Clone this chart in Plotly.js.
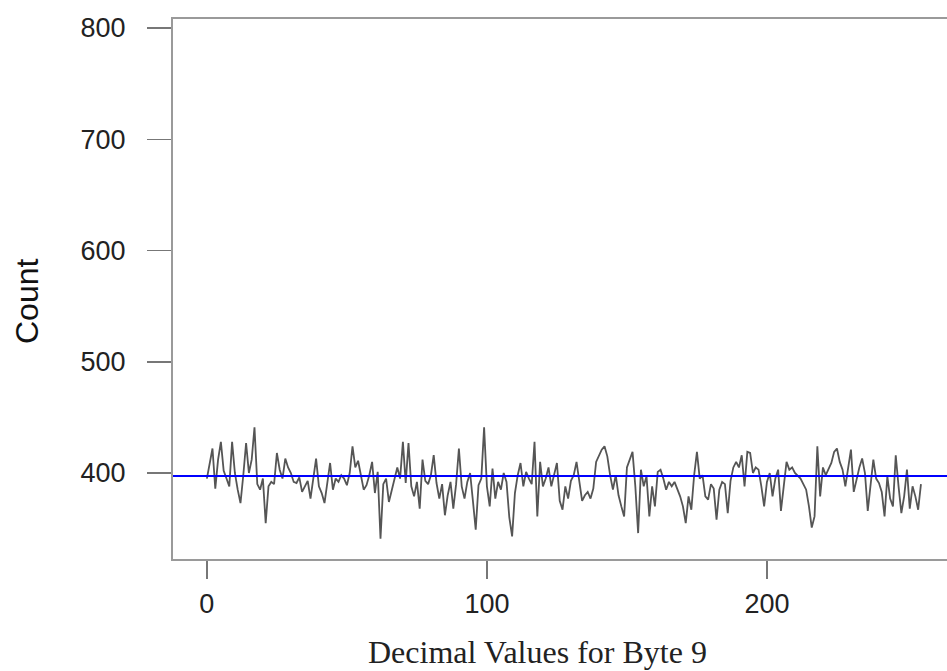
<!DOCTYPE html>
<html>
<head>
<meta charset="utf-8">
<script src="https://cdn.plot.ly/plotly-3.0.1.min.js"></script>
<style>
  html, body { margin: 0; padding: 0; background: #fff; }
  #chart { width: 947px; height: 671px; }
</style>
</head>
<body>
<div id="chart"></div>
<script>
// Count of each decimal value (0..255) observed for byte 9
const byteValues = Array.from({length: 256}, (_, i) => i);
const counts = [
  395, 410, 422, 386, 412, 428, 402, 395, 388, 428,
  400, 385, 373, 398, 427, 400, 412, 441, 390, 385,
  395, 355, 388, 392, 390, 418, 403, 395, 413, 405,
  400, 392, 391, 396, 383, 388, 393, 377, 395, 413,
  388, 382, 373, 392, 409, 385, 395, 392, 398, 395,
  389, 400, 424, 405, 411, 398, 385, 389, 398, 410,
  382, 401, 341, 390, 395, 374, 385, 393, 405, 395,
  428, 391, 427, 388, 379, 392, 368, 412, 393, 390,
  398, 416, 391, 377, 390, 362, 380, 392, 368, 390,
  422, 388, 377, 392, 400, 375, 349, 389, 395, 441,
  388, 370, 404, 377, 392, 385, 400, 392, 360, 343,
  382, 398, 409, 388, 401, 395, 390, 428, 361, 410,
  388, 395, 405, 388, 398, 409, 375, 367, 388, 377,
  393, 398, 410, 390, 375, 380, 383, 377, 386, 410,
  415, 421, 424, 415, 398, 385, 398, 380, 370, 361,
  405, 412, 419, 388, 346, 403, 388, 397, 361, 388,
  370, 401, 403, 395, 385, 392, 388, 392, 385, 379,
  370, 355, 379, 367, 398, 419, 395, 398, 379, 376,
  390, 386, 358, 385, 392, 390, 364, 393, 405, 410,
  405, 416, 388, 419, 418, 400, 405, 403, 388, 370,
  392, 400, 379, 395, 403, 366, 388, 410, 403, 405,
  400, 397, 395, 390, 385, 370, 351, 361, 424, 379,
  405, 398, 403, 409, 419, 422, 410, 403, 388, 404,
  421, 383, 395, 405, 413, 400, 366, 388, 412, 395,
  391, 383, 361, 397, 377, 370, 416, 388, 364, 379,
  403, 368, 388, 379, 367, 390
];
const expectedCount = 397.3;
const xTickValues = [0, 100, 200];
const yTickValues = [400, 500, 600, 700, 800];
const xTitle = "Decimal Values for Byte 9";
const yTitle = "Count";

const traces = [{
  type: "scatter",
  mode: "lines",
  x: byteValues,
  y: counts,
  line: { color: "#555555", width: 1.8 },
  hoverinfo: "x+y",
  showlegend: false
}];

const layout = {
  width: 947,
  height: 671,
  margin: { l: 173, r: 0, t: 19, b: 112, pad: 0 },
  paper_bgcolor: "#ffffff",
  plot_bgcolor: "#ffffff",
  showlegend: false,
  xaxis: {
    range: [-12.1, 264.3],
    tickvals: xTickValues,
    ticktext: xTickValues.map(String),
    ticks: "outside",
    ticklen: 18,
    tickwidth: 1.5,
    tickcolor: "#777",
    ticklabelstandoff: 2,
    showline: true,
    mirror: true,
    linecolor: "#9a9a9a",
    linewidth: 2,
    showgrid: false,
    zeroline: false,
    tickfont: { family: "Liberation Sans, Arial, sans-serif", size: 27, color: "#222" }
  },
  yaxis: {
    range: [322.7, 808.1],
    tickvals: yTickValues,
    ticktext: yTickValues.map(String),
    ticks: "outside",
    ticklen: 24,
    tickwidth: 1.5,
    tickcolor: "#777",
    ticklabelstandoff: 16,
    showline: true,
    mirror: false,
    linecolor: "#9a9a9a",
    linewidth: 2,
    showgrid: false,
    zeroline: false,
    tickfont: { family: "Liberation Sans, Arial, sans-serif", size: 27, color: "#222" }
  },
  annotations: [
    {
      text: xTitle,
      xref: "paper", yref: "paper",
      x: 0.4703, y: -0.1722,
      xanchor: "center", yanchor: "middle",
      showarrow: false,
      font: { family: "Liberation Serif, Times New Roman, serif", size: 32, color: "#222" }
    },
    {
      text: yTitle,
      xref: "paper", yref: "paper",
      x: -0.1886, y: 0.4778,
      xanchor: "center", yanchor: "middle",
      textangle: -90,
      showarrow: false,
      font: { family: "Liberation Sans, Arial, sans-serif", size: 32, color: "#111" }
    }
  ],
  shapes: [{
    type: "line",
    xref: "paper", x0: 0, x1: 1,
    yref: "y", y0: expectedCount, y1: expectedCount,
    line: { color: "#0000ff", width: 2 },
    layer: "above"
  }]
};

Plotly.newPlot("chart", traces, layout, { displayModeBar: false, staticPlot: true });
</script>
</body>
</html>
